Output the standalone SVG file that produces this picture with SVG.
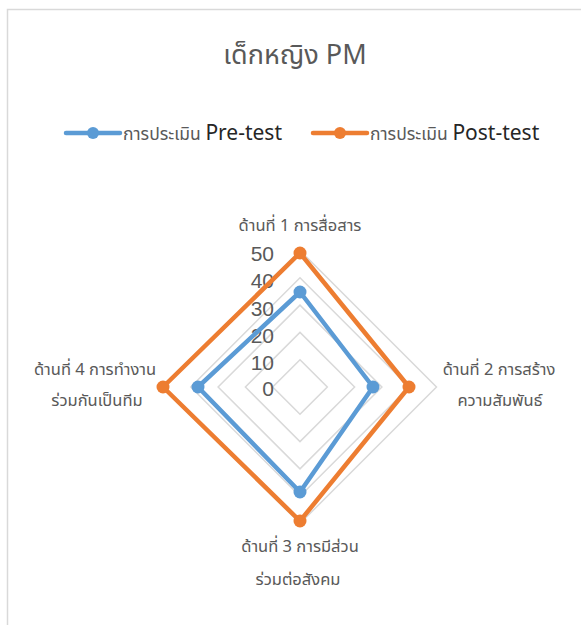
<svg xmlns="http://www.w3.org/2000/svg" width="581" height="625" viewBox="0 0 581 625">
<style>
.t{font-family:"Noto Sans Thai","Leelawadee UI","Tahoma","Noto Sans","DejaVu Sans",sans-serif;fill:#595959}
.ax{font-size:16.5px;text-anchor:middle}
.num{font-family:"Liberation Sans","Noto Sans",sans-serif;font-size:21px;fill:#595959;text-anchor:end}
.grid{fill:none;stroke:#d9d9d9;stroke-width:1.5}
.pre{fill:none;stroke:#5b9bd5;stroke-width:4.5;stroke-linejoin:round}
.post{fill:none;stroke:#ed7d31;stroke-width:4.5;stroke-linejoin:round}
.mpre{fill:#5b9bd5}
.mpost{fill:#ed7d31}
</style>
<rect x="0" y="0" width="581" height="625" fill="#ffffff"/>
<path d="M7.5,625 V9.5 H581" fill="none" stroke="#d9d9d9" stroke-width="1.5"/>
<g id="title"><text class="t" x="295" y="64" font-size="27" text-anchor="middle" fill="#404040">เด็กหญิง PM</text></g>
<g id="legend">
<line x1="66" y1="133" x2="120" y2="133" stroke="#5b9bd5" stroke-width="4.5" stroke-linecap="round"/>
<circle class="mpre" cx="93" cy="133" r="6"/>
<text class="t" x="123" y="140" font-size="17.5">การประเมิน <tspan font-size="21" fill="#262626">Pre-test</tspan></text>
<line x1="313" y1="133" x2="367" y2="133" stroke="#ed7d31" stroke-width="4.5" stroke-linecap="round"/>
<circle class="mpost" cx="340" cy="133" r="6"/>
<text class="t" x="370" y="140" font-size="17.5">การประเมิน <tspan font-size="21" fill="#262626">Post-test</tspan></text>
</g>
<g id="grid">
<polygon class="grid" points="300,359.7 327.3,387 300,414.3 272.7,387"/>
<polygon class="grid" points="300,332.4 354.6,387 300,441.6 245.4,387"/>
<polygon class="grid" points="300,305.1 381.9,387 300,468.9 218.1,387"/>
<polygon class="grid" points="300,277.8 409.2,387 300,496.2 190.8,387"/>
<polygon class="grid" points="300,250.5 436.5,387 300,523.5 163.5,387"/>
</g>
<g id="scale">
<text class="num" x="274" y="261">50</text>
<text class="num" x="274" y="288">40</text>
<text class="num" x="274" y="316">30</text>
<text class="num" x="274" y="343">20</text>
<text class="num" x="274" y="370">10</text>
<text class="num" x="274" y="396">0</text>
</g>
<g id="connectors">
<polygon class="post" points="300,253 409,387 300,521 163,387"/>
<polygon class="pre" points="300,292 373,387 300,492 198,387"/>
</g>
<g id="markers">
<circle class="mpost" cx="300" cy="253" r="6.5"/>
<circle class="mpost" cx="409" cy="387" r="6.5"/>
<circle class="mpost" cx="300" cy="521" r="6.5"/>
<circle class="mpost" cx="163" cy="387" r="6.5"/>
<circle class="mpre" cx="300" cy="292" r="6.5"/>
<circle class="mpre" cx="373" cy="387" r="6.5"/>
<circle class="mpre" cx="300" cy="492" r="6.5"/>
<circle class="mpre" cx="198" cy="387" r="6.5"/>
</g>
<g id="axis1"><text class="t ax" x="300" y="231">ด้านที่ 1 การสื่อสาร</text></g>
<g id="axis2"><text class="t ax" x="499" y="375">ด้านที่ 2 การสร้าง</text><text class="t ax" x="500" y="406">ความสัมพันธ์</text></g>
<g id="axis3"><text class="t ax" x="300" y="552">ด้านที่ 3 การมีส่วน</text><text class="t ax" x="298" y="585">ร่วมต่อสังคม</text></g>
<g id="axis4"><text class="t ax" x="95" y="375">ด้านที่ 4 การทำงาน</text><text class="t ax" x="97" y="406">ร่วมกันเป็นทีม</text></g>
</svg>
